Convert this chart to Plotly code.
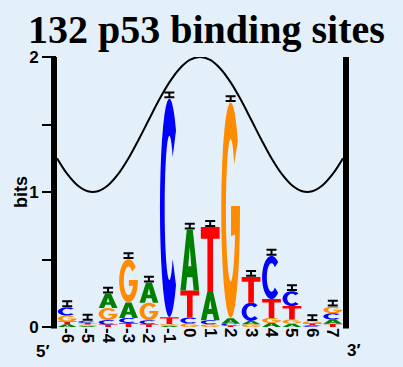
import math
import plotly.graph_objects as go

# ---------------- data ----------------
positions = [-6, -5, -4, -3, -2, -1, 0, 1, 2, 3, 4, 5, 6, 7]
tick_labels = ["-6", "-5", "-4", "-3", "-2", "-1", "0", "1", "2", "3", "4", "5", "6", "7"]
bits_A = [0.020, 0.008, 0.105, 0.115, 0.148, 0.010, 0.450, 0.210, 0.040, 0.025, 0.030, 0.025, 0.008, 0.030]
bits_C = [0.060, 0.015, 0.033, 0.037, 0.030, 1.620, 0.045, 0.030, 0.015, 0.135, 0.320, 0.110, 0.007, 0.047]
bits_G = [0.045, 0.010, 0.090, 0.320, 0.130, 0.012, 0.025, 0.020, 1.600, 0.020, 0.037, 0.030, 0.015, 0.048]
bits_T = [0.020, 0.012, 0.018, 0.030, 0.020, 0.050, 0.200, 0.480, 0.010, 0.190, 0.140, 0.100, 0.012, 0.025]
err_half = [0.018] * 14

curve_x = [-6.5, -6, -5.5, -5, -4.5, -4, -3.5, -3, -2.5, -2, -1.5, -1, -0.5, 0, 0.5,
           1, 1.5, 2, 2.5, 3, 3.5, 4, 4.5, 5, 5.5, 6, 6.5, 7, 7.5]
curve_y = [1.25, 1.134, 1.05, 1.006, 1.006, 1.05, 1.134, 1.25, 1.389, 1.537, 1.683, 1.812, 1.913, 1.978, 2.0,
           1.978, 1.913, 1.812, 1.683, 1.537, 1.389, 1.25, 1.134, 1.05, 1.006, 1.006, 1.05, 1.134, 1.25]

title_text = "132 p53 binding sites"

# ---------------- styles ----------------
COLORS = {"A": "#008000", "C": "#0000ff", "G": "#ff8c00", "T": "#ff0000"}
BG = "#e4f0f9"
LETTER_W = 0.92
ERR_PAD = 0.027


def arc(cx, cy, rx, ry, a0, a1, n=28):
    pts = []
    for i in range(n + 1):
        a = math.radians(a0 + (a1 - a0) * i / n)
        pts.append((cx + rx * math.cos(a), cy + ry * math.sin(a)))
    return pts


def glyph(letter):
    """Unit-box outline(s) of a letter, list of contours."""
    if letter == "T":
        return [[(0, 1), (1, 1), (1, 0.82), (0.65, 0.82), (0.65, 0), (0.35, 0), (0.35, 0.82), (0, 0.82)]]
    if letter == "A":
        outer = [(0, 0), (0.34, 1), (0.66, 1), (1, 0), (0.71, 0), (0.64, 0.22), (0.36, 0.22), (0.29, 0)]
        hole = [(0.42, 0.40), (0.58, 0.40), (0.5, 0.72)]
        return [outer, hole]
    if letter == "C":
        outer = arc(0.5, 0.5, 0.5, 0.5, 45, 315)
        inner = arc(0.5, 0.5, 0.25, 0.33, 315, 45)
        return [outer + inner]
    if letter == "G":
        outer = arc(0.5, 0.5, 0.5, 0.5, 40, 360)
        bar = [(1.0, 0.52), (0.52, 0.52), (0.52, 0.38)]
        inner = arc(0.5, 0.5, 0.25, 0.33, -20, -320)
        return [outer + bar + inner]
    return []


def letter_path(letter, xc, y0, h, w):
    parts = []
    for contour in glyph(letter):
        pts = [(xc - w / 2 + u * w, y0 + v * h) for u, v in contour]
        s = "M " + " L ".join(f"{x:.4f},{y:.5f}" for x, y in pts) + " Z"
        parts.append(s)
    return " ".join(parts)


shapes = []
totals = []
for i, p in enumerate(positions):
    col = [("A", bits_A[i]), ("C", bits_C[i]), ("G", bits_G[i]), ("T", bits_T[i])]
    col.sort(key=lambda t: t[1])
    y = 0.0
    for letter, h in col:
        shapes.append(dict(type="path", xref="x", yref="y", layer="below",
                           path=letter_path(letter, p, y, h, LETTER_W),
                           fillcolor=COLORS[letter], line=dict(width=0)))
        y += h
    totals.append(y)

# thick side bars
shapes.append(dict(type="line", xref="paper", yref="paper", x0=-3 / 286, x1=-3 / 286, y0=-0.006, y1=1,
                   line=dict(color="black", width=6)))
shapes.append(dict(type="line", xref="paper", yref="paper", x0=1 + 3 / 286, x1=1 + 3 / 286, y0=-0.006, y1=1,
                   line=dict(color="black", width=6)))

fig = go.Figure()
fig.add_trace(go.Scatter(x=curve_x, y=curve_y, mode="lines", line=dict(color="black", width=2, shape="spline"),
                         hoverinfo="skip", showlegend=False))
fig.add_trace(go.Scatter(x=positions, y=[t + ERR_PAD for t in totals], mode="markers",
                         marker=dict(size=1, color="rgba(0,0,0,0)"),
                         error_y=dict(type="data", array=err_half, symmetric=True, color="black",
                                      thickness=2, width=5),
                         showlegend=False, hoverinfo="skip"))

bold = dict(family="Liberation Sans, Arial, sans-serif", size=17, color="black", weight="bold")
bold_bits = dict(bold, size=18)

fig.update_layout(
    width=403, height=367,
    margin=dict(l=57, r=60, t=57, b=40, autoexpand=False),
    paper_bgcolor=BG, plot_bgcolor=BG,
    shapes=shapes,
    showlegend=False,
    xaxis=dict(range=[-6.5, 7.5], tickvals=positions, ticktext=tick_labels, tickangle=90,
               showgrid=False, zeroline=False, showline=False, ticks="", tickfont=bold,
               fixedrange=True, ticklabelstandoff=0, automargin=False),
    yaxis=dict(range=[0, 2], tickvals=[0, 0.5, 1, 1.5, 2], ticktext=["0", "", "1", "", "2"],
               showgrid=False, zeroline=False, showline=False, ticks="outside", ticklen=14,
               tickwidth=1.5, tickcolor="black", tickfont=bold, fixedrange=True,
               ticklabelstandoff=0, automargin=False),
    annotations=[
        dict(text=title_text, xref="paper", yref="paper", x=0.521, y=1.1, xanchor="center",
             yanchor="middle", showarrow=False,
             font=dict(family="Liberation Serif, Times New Roman, serif", size=40, color="black",
                       weight="bold")),
        dict(text="bits", xref="paper", yref="paper", x=(21 - 57) / 286, y=0.5, textangle=-90,
             xanchor="center", yanchor="middle", showarrow=False, font=bold_bits),
        dict(text="5\u2032", xref="paper", yref="paper", x=(43 - 57) / 286, y=-(351 - 327) / 270,
             xanchor="center", yanchor="middle", showarrow=False, font=bold),
        dict(text="3\u2032", xref="paper", yref="paper", x=(354 - 57) / 286, y=-(350 - 327) / 270,
             xanchor="center", yanchor="middle", showarrow=False, font=bold),
    ],
)

fig.write_html("out.html", config={"displayModeBar": False},
               post_script="document.body.style.margin='0';document.body.style.padding='0';")
